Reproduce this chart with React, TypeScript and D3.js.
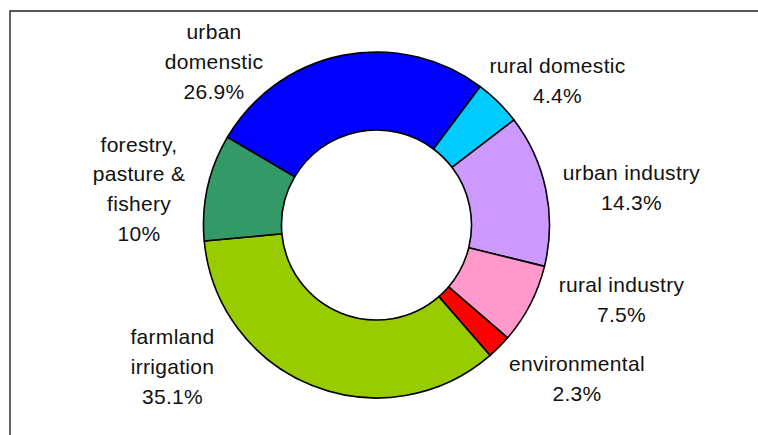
import React from "react";
import * as d3 from "d3";

const categories = [
  "urban domestic",
  "rural domestic",
  "urban industry",
  "rural industry",
  "environmental",
  "farmland irrigation",
  "forestry, pasture & fishery",
];
const values = [26.9, 4.4, 14.3, 7.5, 2.3, 35.1, 10];
const labelLines = [
  ["urban", "domenstic", "26.9%"],
  ["rural domestic", "4.4%"],
  ["urban industry", "14.3%"],
  ["rural industry", "7.5%"],
  ["environmental", "2.3%"],
  ["farmland", "irrigation", "35.1%"],
  ["forestry,", "pasture &", "fishery", "10%"],
];
const colors = ["#0000FF", "#00CCFF", "#CC99FF", "#FF99CC", "#FF0000", "#99CC00", "#339966"];

// label layout (offset of first baseline from the ring centre)
const labelOffsets: [number, number][] = [
  [-162.5, -186],
  [181, -152],
  [255, -45],
  [245, 67],
  [200.5, 146],
  [-204, 119],
  [-237.5, -73.5],
];

const W = 758;
const H = 435;
const cx = 376.5;
const cy = 225;
const outerR = 173;
const innerR = 95;
const lineH = 29.8;

export default function App() {
  const start = (-59.5 * Math.PI) / 180;
  const pie = d3
    .pie<number>()
    .sort(null)
    .value((d) => d)
    .startAngle(start)
    .endAngle(start + 2 * Math.PI);
  const arcs = pie(values);
  const arc = d3.arc<d3.PieArcDatum<number>>().innerRadius(innerR).outerRadius(outerR);

  return (
    <svg
      width={W}
      height={H}
      style={{ position: "absolute", left: 0, top: 0, background: "#fff" }}
      fontFamily="'Liberation Sans', Arial, sans-serif"
    >
      <rect x={0} y={0} width={W} height={H} fill="#fff" />
      <path d={`M10,${H + 5} L10,11 L${W + 5},11`} fill="none" stroke="#222" strokeWidth={1.4} />
      <g transform={`translate(${cx},${cy})`}>
        {arcs.map((a, i) => (
          <path key={categories[i]} d={arc(a) || ""} fill={colors[i]} stroke="#000" strokeWidth={1.6} strokeLinejoin="round" />
        ))}
        {arcs.map((a, i) => (
          <text
            key={"l" + i}
            x={labelOffsets[i][0]}
            y={labelOffsets[i][1]}
            textAnchor="middle"
            fontSize={21}
            letterSpacing={0.3}
            fill="#111"
          >
            {labelLines[i].map((t, j) => (
              <tspan key={j} x={labelOffsets[i][0]} dy={j === 0 ? 0 : lineH}>
                {t}
              </tspan>
            ))}
          </text>
        ))}
      </g>
    </svg>
  );
}
